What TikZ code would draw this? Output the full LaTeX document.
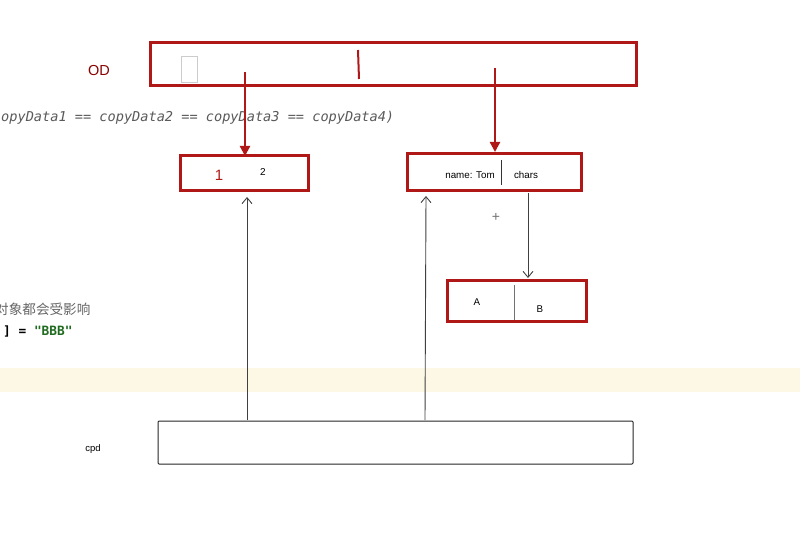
\documentclass[tikz,border=0pt]{standalone}
\usepackage{fontspec}
\setmainfont{Liberation Sans}
\newfontfamily\codefont{DejaVu Sans Mono}
\newfontfamily\cjk{Noto Sans CJK SC}
\usetikzlibrary{arrows.meta}
\definecolor{boxred}{HTML}{B01818}
\definecolor{odred}{HTML}{8B0000}
\definecolor{codegray}{HTML}{5A5A5A}
\definecolor{band}{HTML}{FDF7E6}
\definecolor{strgreen}{HTML}{1F6B1F}
\tikzset{
  redbox/.style={draw=boxred, line width=3pt},
  blackbox/.style={draw=black!85, line width=1pt, rounded corners=1pt},
  redarrow/.style={draw=boxred, line width=2.2pt, -{Triangle[length=10pt,width=10pt]}},
  thinarrow/.style={draw=black!75, line width=0.9pt, -{Straight Barb[length=6pt,width=10pt]}},
  lbl/.style={font=\fontsize{9.8}{11}\selectfont, text=black, inner sep=0pt},
}
\begin{document}
\begin{tikzpicture}[x=1pt,y=-1pt]
\useasboundingbox (0,0) rectangle (800,548);
\clip (0,0) rectangle (800,548);
\fill[white] (0,0) rectangle (800,548);
% yellow band
\fill[band] (0,368) rectangle (800,392);
% OD
\node[text=odred, font=\fontsize{14.5}{15}\selectfont, inner sep=0pt] (odlbl) at (99,71) {OD};
\draw[redbox] (150,43) rectangle (636,86);
\coordinate (od1) at (245,72);
\coordinate (od2) at (495,68);
\draw[draw=black!20, line width=0.9pt] (181,56) rectangle (197,82);
\draw[draw=boxred, line width=2pt] (358,50) -- (359,79);
% code line
\node[anchor=west, text=codegray, font=\codefont\itshape\fontsize{13.6}{14}\selectfont, inner sep=0pt] (code) at (1,118) {opyData1 == copyData2 == copyData3 == copyData4)};
% box 12
\draw[redbox] (180,156) rectangle (308,191);
\node (b12) at (244,173.5) [minimum width=128pt, minimum height=35pt, inner sep=0pt] {};
\node[text=boxred, font=\fontsize{15}{16}\selectfont, inner sep=0pt] (one) at (219,175) {1};
\node[font=\fontsize{10}{11}\selectfont, inner sep=0pt] (two) at (263,172) {2};
% box name
\draw[redbox] (407,154) rectangle (581,191);
\node (bname) at (494,172.5) [minimum width=174pt, minimum height=37pt, inner sep=0pt] {};
\draw[black!80, line width=1pt] (501,160) -- (501,185);
\node[lbl] (nm) at (470,175) {name: Tom};
\node[lbl] (ch) at (526,175) {chars};
\node[text=black!55, font=\fontsize{14}{15}\selectfont, inner sep=0pt] (plus) at (496,217) {+};
% box AB
\draw[redbox] (447,280) rectangle (586,321);
\node (bab) at (516.5,300.5) [minimum width=139pt, minimum height=41pt, inner sep=0pt] {};
\draw[black!55, line width=1pt] (514,285) -- (514,320);
\node[lbl] (a) at (477,302) {A};
\node[lbl] (b) at (540,309) {B};
% chinese + code
\node[anchor=west, text=black!60, font=\cjk\fontsize{13.6}{14}\selectfont, inner sep=0pt] (zh) at (-5,309) {对象都会受影响};
\node[anchor=west, font=\codefont\bfseries\fontsize{12.8}{14}\selectfont, inner sep=0pt] (bbb) at (3,331) {] = \textcolor{strgreen}{"BBB"}};
% cpd
\draw[blackbox] (158,421) rectangle (633,464);
\node (cpd) at (395.5,442.5) [minimum width=475pt, minimum height=43pt, inner sep=0pt] {};
\node[font=\fontsize{9.5}{10}\selectfont, inner sep=0pt] (cpdlbl) at (93,449) {cpd};
\coordinate (c1) at (247,420);
\coordinate (c2) at (425,420);
\coordinate (t1) at (247,197);
\coordinate (t2) at (426,196);
\coordinate (b12top) at (245,156);
\coordinate (bnametop) at (495,152);
\coordinate (nmbot) at (528,193);
\coordinate (abtop) at (528,278);
% arrows
\draw[redarrow] (od1) -- (b12top);
\draw[redarrow] (od2) -- (bnametop);
\draw[thinarrow] (nmbot) -- (abtop);
\draw[thinarrow] (c1) -- (t1);
\draw[thinarrow] (c2) -- (t2);
\end{tikzpicture}
\end{document}
